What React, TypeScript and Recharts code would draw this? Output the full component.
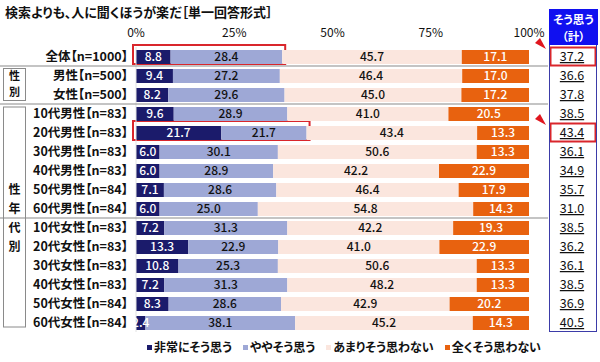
import React from 'react';
import { BarChart, Bar, XAxis, YAxis, LabelList, Legend, ReferenceArea } from 'recharts';

const categories = [
  '全体【n=1000】', '男性【n=500】', '女性【n=500】',
  '10代男性【n=83】', '20代男性【n=83】', '30代男性【n=83】', '40代男性【n=83】', '50代男性【n=84】', '60代男性【n=84】',
  '10代女性【n=83】', '20代女性【n=83】', '30代女性【n=83】', '40代女性【n=83】', '50代女性【n=84】', '60代女性【n=84】',
];
const veryMuch = [8.8, 9.4, 8.2, 9.6, 21.7, 6.0, 6.0, 7.1, 6.0, 7.2, 13.3, 10.8, 7.2, 8.3, 2.4];
const somewhat = [28.4, 27.2, 29.6, 28.9, 21.7, 30.1, 28.9, 28.6, 25.0, 31.3, 22.9, 25.3, 31.3, 28.6, 38.1];
const notMuch = [45.7, 46.4, 45.0, 41.0, 43.4, 50.6, 42.2, 46.4, 54.8, 42.2, 41.0, 50.6, 48.2, 42.9, 45.2];
const notAtAll = [17.1, 17.0, 17.2, 20.5, 13.3, 13.3, 22.9, 17.9, 14.3, 19.3, 22.9, 13.3, 13.3, 20.2, 14.3];
const agreeTotal = [37.2, 36.6, 37.8, 38.5, 43.4, 36.1, 34.9, 35.7, 31.0, 38.5, 36.2, 36.1, 38.5, 36.9, 40.5];
const seriesNames = ['非常にそう思う', 'ややそう思う', 'あまりそう思わない', '全くそう思わない'];
const xTicks = [0, 25, 50, 75, 100];
const highlighted = ['全体【n=1000】', '20代男性【n=83】'];
const separatorAfter = ['全体【n=1000】', '女性【n=500】', '60代男性【n=84】'];
const title = '検索よりも、人に聞くほうが楽だ［単一回答形式］';
const columnHeader = ['そう思う', '（計）'];

const COLORS = ['#1b1b6b', '#9ea8d6', '#fbe6de', '#e8620f'];
const LABEL_COLORS = ['#ffffff', '#111111', '#111111', '#ffffff'];
const FONT = "'Noto Sans CJK JP', 'Noto Sans', sans-serif";
const PALT = { fontFeatureSettings: '"palt"' } as React.CSSProperties;

const data = categories.map((name, i) => ({
  name,
  v1: veryMuch[i],
  v2: somewhat[i],
  v3: notMuch[i],
  v4: notAtAll[i],
  total: agreeTotal[i],
}));

const groupChars: Record<string, string> = {
  '50代男性【n=84】': '性',
  '60代男性【n=84】': '年',
  '10代女性【n=83】': '代',
  '20代女性【n=83】': '別',
};

const LeftTick = (props: any) => {
  const { x, y, payload } = props;
  const name = payload.value as string;
  const sep = separatorAfter.includes(name);
  return (
    <g>
      <text x={x} y={y} dy={4.5} textAnchor="end" fontSize={12.5} fontWeight="bold" fill="#111" fontFamily={FONT} style={PALT}>
        {name}
      </text>
      {sep && <line x1={0} x2={548} y1={y + 9.5} y2={y + 9.5} stroke="#8a8a8a" strokeWidth={1.2} />}
      {name === '男性【n=500】' && (
        <g>
          <rect x={3.5} y={y - 7} width={22} height={32} fill="#fff" stroke="#8a8a8a" />
          <text x={14.5} y={y + 4.5} textAnchor="middle" fontSize={11} fontWeight="bold" fill="#111" fontFamily={FONT}>性</text>
          <text x={14.5} y={y + 20.5} textAnchor="middle" fontSize={11} fontWeight="bold" fill="#111" fontFamily={FONT}>別</text>
        </g>
      )}
      {name === '10代男性【n=83】' && (
        <rect x={3.5} y={y - 6.5} width={22} height={220} fill="none" stroke="#8a8a8a" />
      )}
      {groupChars[name] && (
        <text x={14.5} y={y} dy={4.5} textAnchor="middle" fontSize={12} fontWeight="bold" fill="#111" fontFamily={FONT}>
          {groupChars[name]}
        </text>
      )}
    </g>
  );
};

const RightTick = (props: any) => {
  const { y, payload } = props;
  const name = payload.value as string;
  const i = categories.indexOf(name);
  const hl = highlighted.includes(name);
  return (
    <g>
      <text x={572} y={y} dy={4.5} textAnchor="middle" fontSize={12.5} fill="#111" fontFamily={FONT}
        style={{ textDecoration: 'underline' }}>
        {agreeTotal[i].toFixed(1)}
      </text>
      {hl && <rect x={550.5} y={y - 9} width={45} height={18} fill="none" stroke="#d9262c" strokeWidth={2} />}
      {hl && <polygon points={`${540},${y - 18.5} ${535},${y - 13.5} ${546},${y - 7.5}`} fill="#e0161e" />}
    </g>
  );
};

const LegendContent = () => (
  <div style={{ display: 'flex', justifyContent: 'flex-start', height: 22, paddingTop: 7, paddingLeft: 147, boxSizing: 'border-box', fontFamily: FONT }}>
    {seriesNames.map((s, i) => (
      <div key={s} style={{ display: 'flex', alignItems: 'center', flexShrink: 0, whiteSpace: 'nowrap', marginRight: i < 3 ? 11 : 0, fontSize: 12, fontWeight: 'bold', color: '#111', lineHeight: '14px', ...PALT }}>
        <span style={{ display: 'inline-block', width: 5, height: 5, background: COLORS[i], marginRight: 2, marginTop: 2 }} />
        {s}
      </div>
    ))}
  </div>
);

export default function App() {
  const keys = ['v1', 'v2', 'v3', 'v4'];
  return (
    <div style={{ position: 'absolute', left: 0, top: 0, width: 600, height: 362, background: '#fff', fontFamily: FONT }}>
      <div style={{ position: 'absolute', left: 5, top: 4, fontSize: 13, fontWeight: 'bold', color: '#111', whiteSpace: 'nowrap', lineHeight: '16px', ...PALT }}>
        {title}
      </div>
      <BarChart width={600} height={362} data={data} layout="vertical"
        margin={{ top: 0, right: 0, bottom: 8, left: 0 }} barSize={14}>
        <XAxis type="number" orientation="top" domain={[0, 100]} ticks={xTicks} height={47}
          allowDataOverflow axisLine={false} tickLine={false} tickMargin={4}
          tickFormatter={(v: number) => `${v}%`}
          tick={{ fontSize: 12, fill: '#111', fontFamily: FONT }} />
        <YAxis yAxisId="left" type="category" dataKey="name" width={136} tickLine={false}
          axisLine={{ stroke: '#e2e2e2' }} tick={<LeftTick />} interval={0} />
        <YAxis yAxisId="right" orientation="right" type="category" dataKey="name" width={71}
          tickLine={false} axisLine={false} tick={<RightTick />} interval={0} />
        <Legend verticalAlign="bottom" content={<LegendContent />} wrapperStyle={{ left: 0, width: 600 }} />
        {keys.map((k, idx) => (
          <Bar key={k} dataKey={k} name={seriesNames[idx]} stackId="a" yAxisId="left" fill={COLORS[idx]} isAnimationActive={false}>
            <LabelList dataKey={k} position="center" fill={LABEL_COLORS[idx]} fontSize={12} fontWeight={500} fontFamily={FONT}
              formatter={(v: any) => Number(v).toFixed(1)} />
          </Bar>
        ))}
        {highlighted.map((h) => (
          <ReferenceArea key={h} yAxisId="left" y1={h} y2={h} x1={0} x2={agreeTotal[categories.indexOf(h)]}
            ifOverflow="visible"
            shape={(p: any) => (
              <rect x={p.x - 3} y={p.y - 2} width={p.width + 6} height={p.height} fill="none" stroke="#d9262c" strokeWidth={2} />
            )} />
        ))}
      </BarChart>
      <div style={{ position: 'absolute', left: 549, top: 9, width: 48, height: 323, border: '1px solid #3b3ba8', boxSizing: 'border-box', pointerEvents: 'none' }} />
      <div style={{ position: 'absolute', left: 549, top: 9, width: 49, height: 36, background: '#1010f0', color: '#fff', fontWeight: 'bold', fontSize: 11.5, lineHeight: '17px', textAlign: 'center', paddingTop: 2, boxSizing: 'border-box', ...PALT }}>
        <div>{columnHeader[0]}</div>
        <div>{columnHeader[1]}</div>
      </div>
    </div>
  );
}
